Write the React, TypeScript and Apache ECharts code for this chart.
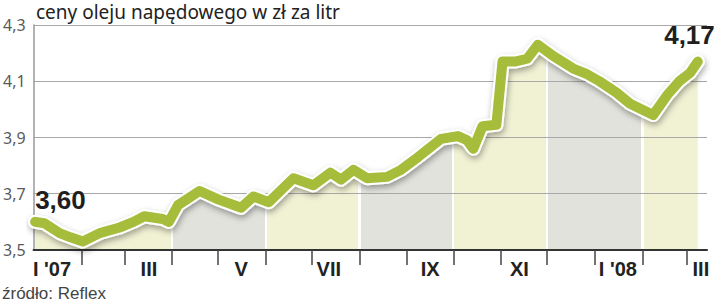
import React, { useEffect, useRef } from 'react';
import * as echarts from 'echarts';

const dates = [
  '2007-01-02', '2007-01-08', '2007-01-18', '2007-01-25', '2007-02-02', '2007-02-13',
  '2007-02-26', '2007-03-07', '2007-03-14', '2007-03-26', '2007-03-30', '2007-04-05',
  '2007-04-12', '2007-04-19', '2007-05-01', '2007-05-16', '2007-05-24', '2007-06-03',
  '2007-06-19', '2007-07-02', '2007-07-13', '2007-07-20', '2007-07-28', '2007-08-06',
  '2007-08-19', '2007-08-28', '2007-09-08', '2007-09-23', '2007-10-04', '2007-10-10',
  '2007-10-14', '2007-10-20', '2007-10-29', '2007-11-02', '2007-11-10', '2007-11-18',
  '2007-11-25', '2007-12-05', '2007-12-18', '2007-12-27', '2008-01-04', '2008-01-15',
  '2008-01-24', '2008-02-08', '2008-02-17', '2008-02-25', '2008-03-03', '2008-03-08',
];
const prices = [
  3.6, 3.595, 3.56, 3.545, 3.53, 3.56,
  3.58, 3.6, 3.62, 3.61, 3.6, 3.66,
  3.685, 3.71, 3.68, 3.65, 3.69, 3.67,
  3.755, 3.73, 3.775, 3.75, 3.785, 3.755,
  3.76, 3.785, 3.83, 3.895, 3.905, 3.89,
  3.86, 3.94, 3.945, 4.17, 4.17, 4.18,
  4.23, 4.19, 4.145, 4.125, 4.1, 4.06,
  4.02, 3.98, 4.05, 4.1, 4.13, 4.17,
];
const monthStarts = [
  '2007-02-01', '2007-03-01', '2007-04-01', '2007-05-01', '2007-06-01', '2007-07-01',
  '2007-08-01', '2007-09-01', '2007-10-01', '2007-11-01', '2007-12-01', '2008-01-01',
  '2008-02-01', '2008-03-01',
];
const monthLabels = ["I '07", 'III', 'V', 'VII', 'IX', 'XI', "I '08", 'III'];
const monthLabelDates = [
  '2007-01-13', '2007-03-17', '2007-05-16', '2007-07-12', '2007-09-16', '2007-11-13',
  '2008-01-16', '2008-03-10',
];
const bandStarts = [
  '2007-01-01', '2007-04-01', '2007-06-01', '2007-08-01', '2007-10-01', '2007-12-01', '2008-02-01',
];
const bandColors = ['#f1f1d4', '#e1e2dc'];
const axisStart = '2007-01-01';
const axisEnd = '2008-03-14';
const yTicks = { min: 3.5, max: 4.3, interval: 0.2 };
const title = 'ceny oleju napędowego w zł za litr';
const source = 'źródło: Reflex';

const BASE = Date.UTC(2007, 0, 1);
const dayOf = (s: string) => {
  const [y, m, d] = s.split('-').map(Number);
  return (Date.UTC(y, m - 1, d) - BASE) / 86400000;
};

const ARIAL = "'Liberation Sans', Arial, sans-serif";

export default function App() {
  const ref = useRef<HTMLDivElement>(null);
  useEffect(() => {
    document.body.style.margin = '0';
    if (!ref.current) return;
    const chart = echarts.init(ref.current, null, { renderer: 'svg' });

    const days = dates.map(dayOf);
    const pts = days.map((d, i) => [d, prices[i]]);
    const x0 = days[0];
    const x1 = days[days.length - 1];
    const span = x1 - x0;
    const off = (d: number) => Math.min(1, Math.max(0, (d - x0) / span));
    const g = 0.7 / span;
    const stops: { offset: number; color: string }[] = [];
    bandStarts.forEach((bs, i) => {
      const c = bandColors[i % 2];
      const s = off(Math.max(dayOf(bs), x0));
      const e = i + 1 < bandStarts.length ? off(dayOf(bandStarts[i + 1])) : 1;
      if (i === 0) stops.push({ offset: s, color: c });
      else {
        stops.push({ offset: s - g, color: '#ffffff' });
        stops.push({ offset: s + g, color: '#ffffff' });
        stops.push({ offset: s + g, color: c });
      }
      if (i + 1 < bandStarts.length) {
        stops.push({ offset: e - g, color: c });
        stops.push({ offset: e - g, color: '#ffffff' });
      } else stops.push({ offset: 1, color: c });
    });

    const labelMap: Record<number, string> = {};
    monthLabelDates.forEach((d, i) => (labelMap[dayOf(d)] = monthLabels[i]));

    const fmt = (v: number) => v.toFixed(2).replace('.', ',');
    const labelBase = {
      show: true,
      position: 'top',
      fontSize: 26,
      fontWeight: 'bold',
      fontFamily: ARIAL,
      color: '#1f1f1f',
      formatter: (p: any) => fmt(p.value[1]),
    };
    const mainData = pts.map((p, i) => {
      if (i === 0) return { value: p, label: { ...labelBase, align: 'left', distance: 9 } };
      if (i === pts.length - 1)
        return { value: p, label: { ...labelBase, align: 'right', distance: 14, offset: [17, 0] } };
      return { value: p };
    });

    chart.setOption({
      animation: false,
      title: [
        {
          text: title,
          left: 36,
          top: 2,
          padding: 0,
          textStyle: { fontFamily: "'Noto Sans', sans-serif", fontSize: 19, fontWeight: 'normal', color: '#222' },
        },
        {
          text: source,
          left: 2,
          top: 285,
          padding: 0,
          textStyle: { fontFamily: ARIAL, fontSize: 17, fontWeight: 'normal', color: '#444' },
        },
      ],
      grid: { left: 31, right: 13, top: 25, bottom: 54 },
      xAxis: {
        type: 'value',
        min: dayOf(axisStart),
        max: dayOf(axisEnd),
        z: 2,
        axisLine: { show: true, lineStyle: { color: '#333', width: 2 } },
        axisTick: {
          show: true,
          customValues: monthStarts.map(dayOf),
          length: 15,
          lineStyle: { color: '#444', width: 1.5 },
        },
        axisLabel: {
          customValues: monthLabelDates.map(dayOf),
          formatter: (v: number) => labelMap[v] ?? '',
          fontFamily: ARIAL,
          fontWeight: 'bold',
          fontSize: 20,
          color: '#222',
          margin: 9,
        },
        splitLine: { show: false },
      },
      yAxis: {
        type: 'value',
        min: yTicks.min,
        max: yTicks.max,
        interval: yTicks.interval,
        z: 2,
        axisLine: { show: true, lineStyle: { color: '#9a9a9a', width: 1.5 } },
        axisTick: { show: false },
        axisLabel: {
          formatter: (v: number) => v.toFixed(1).replace('.', ','),
          fontFamily: "'Noto Sans', sans-serif",
          fontSize: 16,
          color: '#5a5a5a',
          margin: 8,
          padding: [10, 0, 0, 0],
        },
        splitLine: { show: true, lineStyle: { color: '#a8a8a8', width: 1 } },
      },
      series: [
        {
          type: 'line',
          data: pts,
          symbol: 'none',
          silent: true,
          z: 1,
          lineStyle: { width: 0, opacity: 0 },
          areaStyle: {
            opacity: 1,
            color: new echarts.graphic.LinearGradient(0, 0, 1, 0, stops, false),
          },
        },
        {
          type: 'line',
          data: pts,
          symbol: 'none',
          silent: true,
          z: 3,
          lineStyle: {
            color: '#ffffff',
            width: 14,
            cap: 'round',
            join: 'round',
            shadowColor: 'rgba(0,0,0,0.35)',
            shadowBlur: 6,
            shadowOffsetX: 1,
            shadowOffsetY: 3,
          },
        },
        {
          type: 'line',
          data: mainData,
          symbol: 'circle',
          symbolSize: 0,
          showSymbol: true,
          showAllSymbol: true,
          silent: true,
          z: 4,
          itemStyle: { color: '#a6bd3b' },
          label: { show: false },
          lineStyle: { color: '#a6bd3b', width: 10, cap: 'round', join: 'round' },
        },
      ],
    });
    return () => chart.dispose();
  }, []);
  return <div ref={ref} style={{ width: 720, height: 304 }} />;
}
